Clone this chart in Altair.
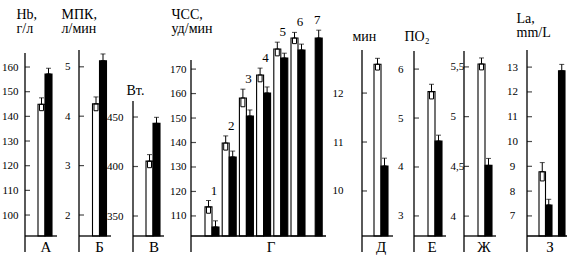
import altair as alt
import pandas as pd

FONT = "Liberation Serif"
CONDITIONS = ["до", "после"]

# А: Hb, г/л
hb_mean = [144.9, 157.2]
hb_upper = [147.5, 159.5]
hb_ticks = [100, 110, 120, 130, 140, 150, 160]
hb_extent = [91.5, 166.9]

# Б: МПК, л/мин
mpk_mean = [4.25, 5.12]
mpk_upper = [4.39, 5.26]
mpk_ticks = [2, 3, 4, 5]
mpk_extent = [1.575, 5.34]

# В: Вт.
wt_mean = [405.4, 443.6]
wt_upper = [412.0, 449.7]
wt_ticks = [350, 400, 450]
wt_extent = [329.8, 517.7]

# Г: ЧСС, уд/мин (stages 1-7)
hr_stages = ["1", "2", "3", "4", "5", "6", "7"]
hr_before = [113.7, 139.8, 158.2, 167.6, 178.2, 182.7]
hr_before_upper = [116.3, 142.7, 161.8, 170.4, 181.0, 185.0]
hr_after = [105.5, 134.1, 150.8, 160.2, 174.5, 177.8, 182.7]
hr_after_upper = [108.0, 136.5, 153.3, 162.7, 176.5, 180.2, 185.9]
hr_ticks = [110, 120, 130, 140, 150, 160, 170]
hr_extent = [101.8, 177.8]

# Д: мин
min_mean = [12.59, 10.51]
min_upper = [12.71, 10.67]
min_ticks = [10, 11, 12]
min_extent = [9.08, 12.88]

# Е: ПО2
po2_mean = [5.54, 4.53]
po2_upper = [5.69, 4.65]
po2_ticks = [3, 4, 5, 6]
po2_extent = [2.59, 6.39]

# Ж
zh_mean = [5.53, 4.51]
zh_upper = [5.59, 4.58]
zh_ticks = [4, 4.5, 5, 5.5]
zh_extent = [3.8, 5.67]

# З: La, mm/L
la_groups = ["a", "a", "b"]
la_cond = ["до", "после", "после"]
la_mean = [8.78, 7.44, 12.85]
la_upper = [9.15, 7.67, 13.11]
la_ticks = [7, 8, 9, 10, 11, 12, 13]
la_extent = [6.19, 13.69]

H = 186


def frame(groups, conds, means, uppers):
    df = pd.DataFrame({"group": groups, "cond": conds, "mean": means, "hi": uppers})
    df["lo"] = 2 * df["mean"] - df["hi"]
    return df


def two(letter, means, uppers):
    return frame([letter, letter], CONDITIONS, means, uppers)


hr_df = pd.concat([
    frame(hr_stages[:len(hr_before)], ["до"] * len(hr_before), hr_before, hr_before_upper),
    frame(hr_stages, ["после"] * len(hr_after), hr_after, hr_after_upper),
], ignore_index=True)


def panel(df, W, start, step, bw, extent, ticks, top, base_len, lab_align, lab_pad,
          title, title_dx, title_y, letter, letter_x, numbers=False, comma=False, lh=14):
    groups = list(dict.fromkeys(df["group"]))
    n = len(groups)
    pi = 1 - bw / step
    xscale = alt.Scale(domain=groups, paddingInner=pi, paddingOuter=0,
                       range=[start, start + step * (n - pi)], round=False)
    x_enc = alt.X("group:N", scale=xscale, axis=None)
    xoff = alt.XOffset("cond:N", scale=alt.Scale(domain=CONDITIONS, paddingInner=0, paddingOuter=0))
    yscale = alt.Scale(domain=extent, nice=False, zero=False)
    axis_kw = dict(values=ticks, domain=False, ticks=False, tickSize=0, grid=False,
                   labelFont=FONT, labelFontSize=11, labelColor="black", labelPadding=lab_pad,
                   labelAlign=lab_align, labelBaseline="middle", labelFlush=False, labelOverlap=False,
                   titleAngle=0, titleX=title_dx, titleY=title_y, titleAlign="left",
                   titleBaseline="alphabetic", titleFont=FONT, titleFontSize=14,
                   titleFontWeight="normal", titleColor="black", titleLineHeight=lh)
    if comma:
        axis_kw["labelExpr"] = "replace(format(datum.value, '.1~f'), '.', ',')"
    y_axis = alt.Axis(title=title if title else "", **axis_kw)

    def Y(field):
        return alt.Y(field, type="quantitative", scale=yscale, axis=y_axis)

    base = alt.Chart(df)
    bars = base.mark_bar(stroke="black", strokeWidth=1.1).encode(
        x=x_enc, xOffset=xoff, y=Y("mean"), y2=alt.datum(extent[0]),
        color=alt.Color("cond:N", scale=alt.Scale(domain=CONDITIONS, range=["white", "black"]), legend=None),
    )
    box = base.mark_bar(width=4, fillOpacity=0, stroke="black", strokeWidth=1).encode(
        x=x_enc, xOffset=xoff, y=Y("lo"), y2="mean:Q")
    stem = base.mark_rule(color="black", strokeWidth=1).encode(
        x=x_enc, xOffset=xoff, y=Y("mean"), y2="hi:Q")
    cap = base.mark_tick(orient="horizontal", size=5, thickness=1, color="black").encode(
        x=x_enc, xOffset=xoff, y=Y("hi"))
    tick_marks = alt.Chart(pd.DataFrame({"mean": ticks})).mark_tick(
        orient="horizontal", size=5, thickness=1.2, color="black").encode(
        x=alt.value(2.5), y=Y("mean"))
    one = alt.Chart(pd.DataFrame({"t": [letter]}))
    vline = one.mark_rule(color="black", strokeWidth=1.3).encode(
        x=alt.value(0), y=alt.value(top), y2=alt.value(H + 16))
    hline = one.mark_rule(color="black", strokeWidth=1.3).encode(
        x=alt.value(0), x2=alt.value(base_len), y=alt.value(H))
    letter_txt = one.mark_text(font=FONT, fontSize=15, fill="black", baseline="alphabetic",
                               align="center").encode(
        x=alt.value(letter_x), y=alt.value(H + 16), text="t:N")
    layers = [bars, box, stem, cap, tick_marks, vline, hline, letter_txt]
    if numbers:
        lab = df.groupby("group", as_index=False)["hi"].max()
        txt = alt.Chart(lab).mark_text(font=FONT, fontSize=13, fill="black", dy=-10, dx=2,
                                       baseline="middle").encode(
            x=x_enc, y=Y("hi"), text="group:N")
        layers.append(txt)
    return alt.layer(*layers).properties(width=W, height=H)


pA = panel(two("А", hb_mean, hb_upper), 54, 13, 14, 14, hb_extent, hb_ticks, 3, 32, "right", 7,
           ["Hb,", "г/л"], -9, -32, "А", 21)
pB = panel(two("Б", mpk_mean, mpk_upper), 54, 13.5, 14, 14, mpk_extent, mpk_ticks, 0, 32, "right", 9,
           ["МПК,", "л/мин"], -18, -32, "Б", 20.5)
pV = panel(two("В", wt_mean, wt_upper), 58, 13, 14, 14, wt_extent, wt_ticks, 51, 31, "right", 10,
           ["Вт."], -7, 44, "В", 21)
pG = panel(hr_df, 171, 14, 17.2, 14, hr_extent, hr_ticks, 10, 135, "right", 5,
           ["ЧСС,", "уд/мин"], -20, -32, "Г", 80, numbers=True)
pD = panel(two("Д", min_mean, min_upper), 52, 12, 14, 14, min_extent, min_ticks, 0, 31, "right", 19,
           ["мин"], -10, -10, "Д", 19)
pE = panel(two("Е", po2_mean, po2_upper), 50, 14, 14, 14, po2_extent, po2_ticks, 1, 32, "right", 11,
           ["ПО₂"], -10, -10, "Е", 18)
pZh = panel(two("Ж", zh_mean, zh_upper), 63, 14, 14, 14, zh_extent, zh_ticks, 1, 32, "left", 14,
            None, 0, 0, "Ж", 20, comma=True)
pZ = panel(frame(la_groups, la_cond, la_mean, la_upper), 40, 12, 13, 13, la_extent, la_ticks, 0, 40,
           "center", 15, ["La,", "mm/L"], -11, -28, "З", 23, lh=14)

chart = alt.hconcat(pA, pB, pV, pG, pD, pE, pZh, pZ, spacing=0, bounds="flush").resolve_scale(
    x="independent", y="independent", xOffset="independent"
).properties(
    padding={"left": 1, "top": 7, "right": 0, "bottom": 2},
    background="white",
).configure_view(strokeWidth=0)

chart.save("out.html", embed_options={"renderer": "svg", "actions": False})
